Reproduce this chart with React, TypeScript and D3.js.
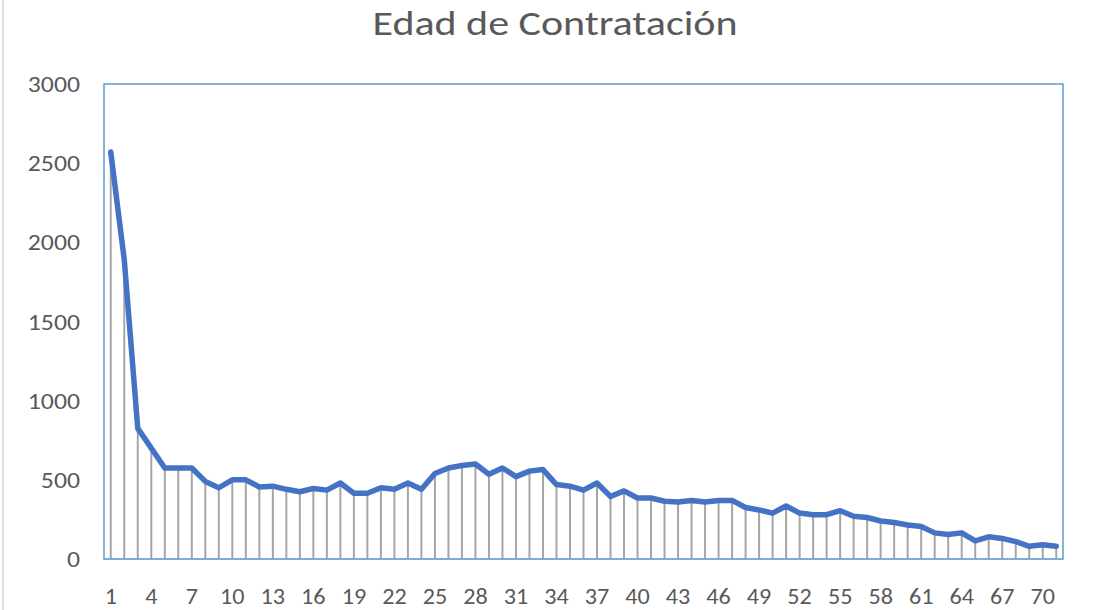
import React from 'react';
import * as d3 from 'd3';

// edades 1..71
const edades = d3.range(1, 72).map(String);
const cantidades = [
  2570, 1890, 825, 700, 575, 575, 575, 490, 450, 500,
  500, 455, 460, 440, 425, 445, 435, 480, 415, 415,
  450, 440, 480, 440, 540, 575, 590, 600, 535, 575,
  520, 555, 565, 470, 460, 435, 480, 395, 430, 385,
  385, 365, 360, 370, 360, 370, 370, 325, 310, 290,
  335, 290, 280, 280, 305, 270, 262, 240, 230, 215,
  205, 165, 155, 165, 115, 140, 130, 110, 80, 90, 80,
];
const yTicks = [0, 500, 1000, 1500, 2000, 2500, 3000];
const titulo = 'Edad de Contratación';

const W = 1102;
const H = 610;
const font = "Carlito, Lato, 'Open Sans', sans-serif";

const App = () => {
  const x = d3.scaleBand().domain(edades).range([104, 1063]).padding(0);
  const y = d3.scaleLinear().domain([0, 3000]).range([559, 84]);
  const cx = (d: string) => (x(d) as number) + x.bandwidth() / 2;

  const linea = d3.line<number>()
    .x((_, i) => cx(edades[i]))
    .y(d => y(d));

  return (
    <svg width={W} height={H} style={{ position: 'absolute', left: 0, top: 0, background: '#fff' }}>
      <line x1={3} x2={3} y1={0} y2={H} stroke="#d9d9d9" strokeWidth={1.5} />
      <text transform={`translate(555,35) scale(1.2,1)`} textAnchor="middle" fontFamily={font} fontWeight={300} fontSize={35} fill="#595959">
        {titulo}
      </text>

      {yTicks.map(t => (
        <text key={t} transform={`translate(80,${y(t)}) scale(1.12,1)`} dy="0.35em" textAnchor="end" fontFamily={font} fontSize={23} fill="#595959">
          {t}
        </text>
      ))}

      {edades.map((e, i) => (
        <line key={e} x1={cx(e)} x2={cx(e)} y1={y(0)} y2={y(cantidades[i])} stroke="#a5a5a5" strokeWidth={2} />
      ))}

      <line x1={104} x2={1063} y1={y(0)} y2={y(0)} stroke="#d9d9d9" strokeWidth={1.5} />

      <path d={linea(cantidades) || ''} fill="none" stroke="#4472c4" strokeWidth={5.5}
        strokeLinejoin="round" strokeLinecap="round" />

      <rect x={104} y={84} width={959} height={475} fill="none" stroke="#5b9bd5" strokeWidth={1.5} />

      {edades.filter((_, i) => i % 3 === 0).map(e => (
        <text key={e} transform={`translate(${cx(e)},596) scale(1.05,1)`} dy="0.35em" textAnchor="middle" fontFamily={font} fontSize={23} fill="#595959">
          {e}
        </text>
      ))}
    </svg>
  );
};

export default App;
